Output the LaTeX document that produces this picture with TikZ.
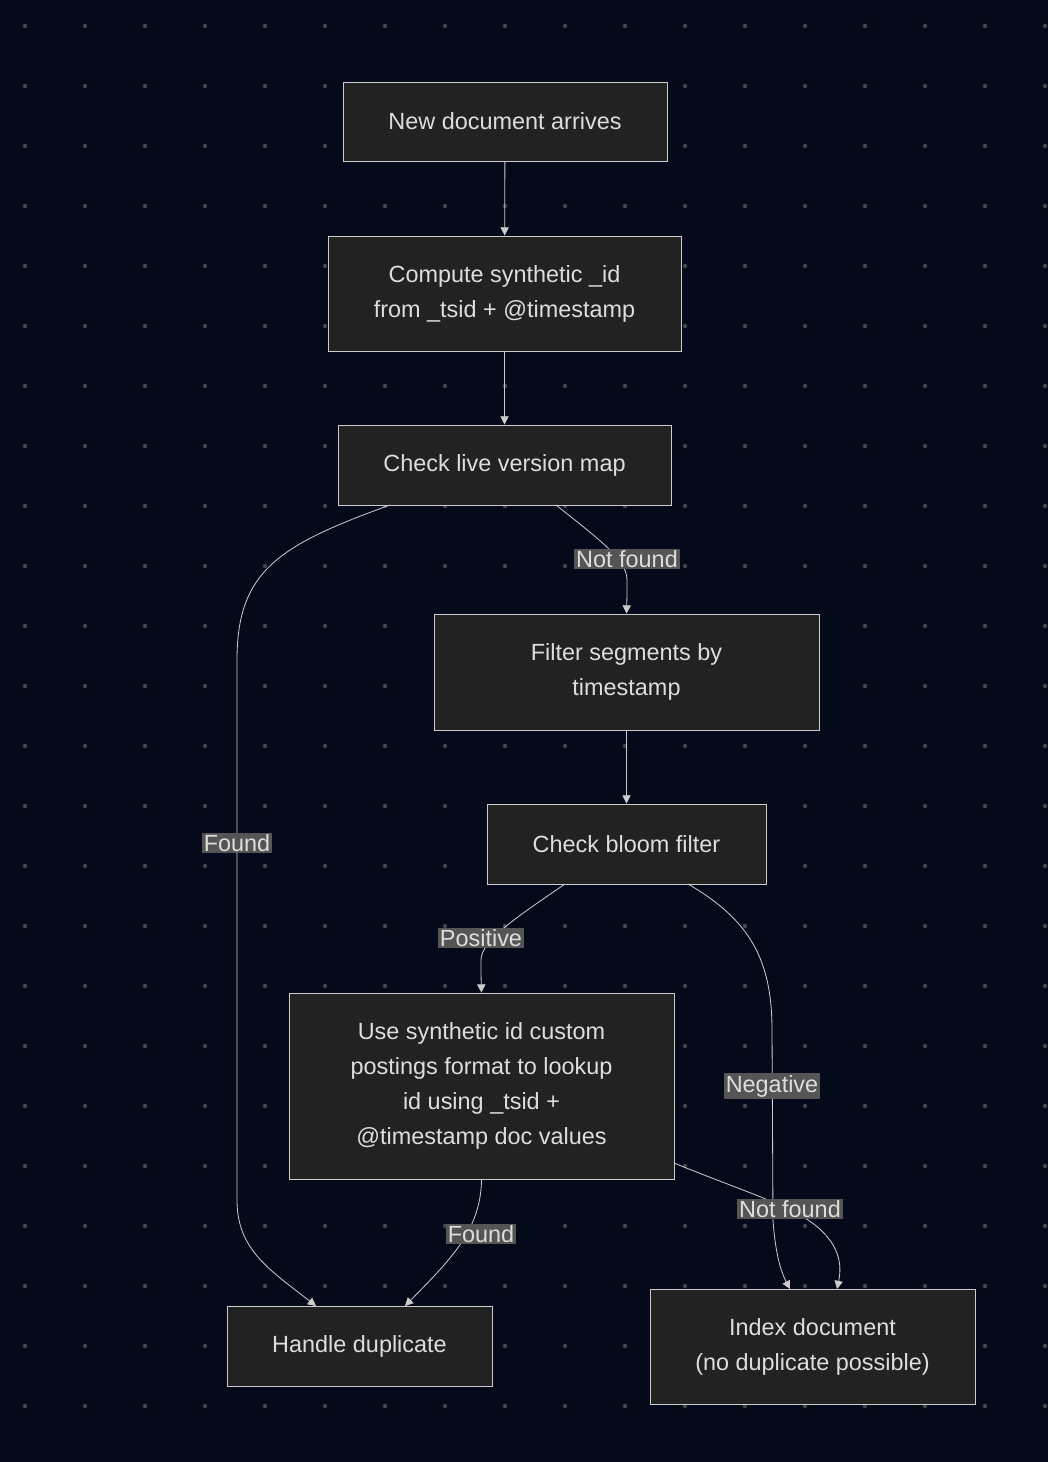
\documentclass[tikz,border=0pt]{standalone}
\usepackage{fontspec}
\setmainfont{Liberation Sans}
\usetikzlibrary{arrows.meta}
\definecolor{bgc}{HTML}{050A1A}
\definecolor{boxc}{HTML}{222222}
\definecolor{linec}{HTML}{CCCCCC}
\definecolor{txtc}{HTML}{DDDDDD}
\definecolor{lblc}{HTML}{555555}
\begin{document}
\begin{tikzpicture}
          [x=0.03cm,y=-0.03cm,
           box/.style={draw=linec, line width=0.8pt, fill=boxc, text=txtc, align=center, inner sep=0pt,
             font=\fontsize{20}{29.8}\selectfont},
           lbl/.style={fill=lblc, text=txtc, inner sep=1.5pt, font=\fontsize{20}{23}\selectfont},
           conn/.style={draw=linec, line width=0.7pt, -{Triangle[length=7pt,width=7pt]}}]
        \fill[bgc] (0,0) rectangle (1048,1462);
        \foreach \i in {0,...,17}
          \foreach \j in {0,...,23}
            \fill[lblc!80!bgc] (25+60*\i,26+60*\j) circle (2.2);

        \node[box, minimum width=324*0.03cm, minimum height=79*0.03cm] (arrive) at (505,121.5) {New document arrives};
        \node[box, minimum width=353*0.03cm, minimum height=115*0.03cm] (synth) at (504.5,293.5) {Compute synthetic \_id\\from \_tsid + @timestamp};
        \node[box, minimum width=333*0.03cm, minimum height=80*0.03cm] (live) at (504.5,465) {Check live version map};
        \node[box, minimum width=385*0.03cm, minimum height=116*0.03cm] (filter) at (626.5,672) {Filter segments by\\timestamp};
        \node[box, minimum width=279*0.03cm, minimum height=80*0.03cm] (bloom) at (626.5,844) {Check bloom filter};
        \node[box, minimum width=385*0.03cm, minimum height=186*0.03cm] (lookup) at (481.5,1086) {Use synthetic id custom\\postings format to lookup\\id using \_tsid +\\@timestamp doc values};
        \node[box, minimum width=265*0.03cm, minimum height=80*0.03cm] (dup) at (359.5,1346) {Handle duplicate};
        \node[box, minimum width=325*0.03cm, minimum height=115*0.03cm] (index) at (812.5,1346.5) {Index document\\(no duplicate possible)};

        \coordinate (a1) at (556,505);
        \coordinate (a2) at (390,505);
        \coordinate (b1) at (565,884);
        \coordinate (b2) at (688,884);
        \coordinate (c1) at (674,1163);
        \coordinate (d1) at (316,1306);
        \coordinate (d2) at (405,1306);
        \coordinate (e1) at (790,1289);
        \coordinate (e2) at (837,1289);

        \draw[conn] (arrive) -- (synth);
        \draw[conn] (synth) -- (live);
        \draw[conn] (a1) .. controls (600,540) and (627,560) .. (627,580) .. controls (627,595) .. (filter.north);
        \draw[conn] (a2) .. controls (280,545) and (237,570) .. (237,660) -- (237,1200) .. controls (237,1250) and (270,1270) .. (d1);
        \draw[conn] (filter) -- (bloom);
        \draw[conn] (b1) .. controls (520,915) and (481,940) .. (481,960) .. controls (481,975) .. (lookup.north);
        \draw[conn] (b2) .. controls (750,920) and (772,960) .. (772,1030) -- (773,1220) .. controls (775,1250) and (780,1270) .. (e1);
        \draw[conn] (lookup.south) .. controls (481,1230) and (450,1260) .. (d2);
        \draw[conn] (c1) .. controls (740,1190) and (790,1205) .. (815,1225) .. controls (840,1245) and (842,1265) .. (e2);

        \node[lbl] (nf1) at (627,559) {Not found};
        \node[lbl] (fd1) at (237,843) {Found};
        \node[lbl] (pos) at (481,938) {Positive};
        \node[lbl] (neg) at (772,1086) {Negative};
        \node[lbl] (fd2) at (481,1234) {Found};
        \node[lbl] (nf2) at (790,1209) {Not found};
      \end{tikzpicture}
\end{document}
